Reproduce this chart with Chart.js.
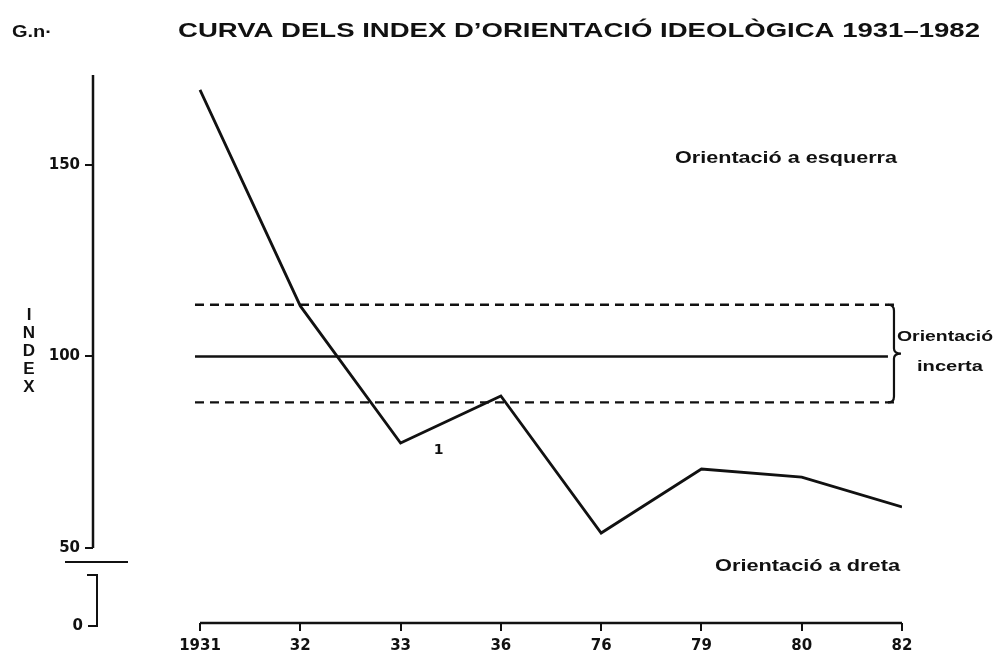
<!DOCTYPE html>
<html>
<head>
<meta charset="utf-8">
<script src="https://cdn.jsdelivr.net/npm/chart.js@4.4.1/dist/chart.umd.min.js"></script>
<style>
    html, body { margin: 0; padding: 0; background: #ffffff; }
    canvas { display: block; }
</style>
</head>
<body>
<canvas id="indexChart" width="1000" height="653"></canvas>
<script>
// values
var years       = ['1931', '32', '33', '36', '76', '79', '80', '82'];
var indexValues = [169.6, 113.2, 77.4, 89.7, 53.9, 70.6, 68.5, 60.7];
var yTicks      = [50, 100, 150];

// band of "orientació incerta"
var bandUpper  = 113.5;
var bandMiddle = 100;
var bandLower  = 88;
var bandFrom   = -0.05;
var bandTo     = 6.92;

var ink = '#111111';
Chart.defaults.font.family = 'DejaVu Sans';
Chart.defaults.color = ink;

function bandLine(value, dash, to) {
    return {
        data:        [{ x: bandFrom, y: value }, { x: to, y: value }],
        borderColor: ink,
        borderWidth: 2.4,
        borderDash:  dash,
        pointRadius: 0,
        tension:     0
    };
}

function strokeLine(ctx, x1, y1, x2, y2) {
    ctx.beginPath();
    ctx.moveTo(x1, y1);
    ctx.lineTo(x2, y2);
    ctx.stroke();
}

// draws text squeezed/stretched to the width it has in the scan
function fitText(ctx, text, left, baseline, width) {
    var w = ctx.measureText(text).width;
    ctx.save();
    ctx.translate(left, baseline);
    ctx.scale(width / w, 1);
    ctx.textAlign = 'left';
    ctx.textBaseline = 'alphabetic';
    ctx.fillText(text, 0, 0);
    ctx.restore();
}

var figureDecor = {
    id: 'figureDecor',
    afterDraw: function (chart) {
        var ctx  = chart.ctx;
        var area = chart.chartArea;
        var xs   = chart.scales.x;
        var ys   = chart.scales.y;
        var y50  = ys.getPixelForValue(yTicks[0]);

        ctx.save();
        ctx.strokeStyle = ink;
        ctx.fillStyle   = ink;
        ctx.lineWidth   = 2.5;

        // axes
        strokeLine(ctx, area.left, area.top, area.left, y50);
        strokeLine(ctx, xs.getPixelForValue(0), area.bottom,
                        xs.getPixelForValue(years.length - 1), area.bottom);

        // axis break and the short piece down to zero
        ctx.lineWidth = 2;
        strokeLine(ctx, area.left - 28, y50 + 14, area.left + 35, y50 + 14);
        ctx.beginPath();
        ctx.moveTo(area.left - 6, y50 + 27);
        ctx.lineTo(area.left + 4, y50 + 27);
        ctx.lineTo(area.left + 4, area.bottom + 3);
        ctx.lineTo(area.left - 5, area.bottom + 3);
        ctx.stroke();
        ctx.font = 'bold 15px "DejaVu Sans"';
        ctx.textAlign = 'right';
        ctx.textBaseline = 'middle';
        ctx.fillText('0', area.left - 10, area.bottom + 3);

        // brace on the band
        var xb = xs.getPixelForValue(bandTo);
        var yU = ys.getPixelForValue(bandUpper);
        var yL = ys.getPixelForValue(bandLower);
        var yM = (yU + yL) / 2;
        ctx.lineWidth = 2.2;
        ctx.beginPath();
        ctx.moveTo(xb - 6, yU);
        ctx.quadraticCurveTo(xb, yU, xb, yU + 6);
        ctx.lineTo(xb, yM - 5);
        ctx.quadraticCurveTo(xb, yM, xb + 7, yM);
        ctx.quadraticCurveTo(xb, yM, xb, yM + 5);
        ctx.lineTo(xb, yL - 6);
        ctx.quadraticCurveTo(xb, yL, xb - 6, yL);
        ctx.stroke();

        // texts
        ctx.font = 'bold 21px "Liberation Sans"';
        fitText(ctx, 'CURVA DELS INDEX D\u2019ORIENTACIÓ IDEOLÒGICA 1931\u20131982', 178, 37, 802);
        ctx.font = 'bold 17px "Liberation Sans"';
        fitText(ctx, 'G.n·', 12, 37, 40);

        ctx.font = 'bold 16px "Liberation Sans"';
        fitText(ctx, 'Orientació a esquerra', 675, 163, 222);
        fitText(ctx, 'Orientació a dreta', 715, 571, 185);
        ctx.font = 'bold 15px "Liberation Sans"';
        fitText(ctx, 'Orientació', 897, 341, 96);
        fitText(ctx, 'incerta', 917, 371, 66);

        ctx.font = 'bold 14px "DejaVu Sans"';
        ctx.textAlign = 'center';
        ctx.textBaseline = 'middle';
        ctx.fillText('1', xs.getPixelForValue(2.38), ys.getPixelForValue(75.6));

        // vertical axis title, letters stacked
        ctx.font = 'bold 17px "Liberation Sans"';
        var letters = ['I', 'N', 'D', 'E', 'X'];
        for (var i = 0; i < letters.length; i++) {
            ctx.fillText(letters[i], 29, 315 + i * 18);
        }
        ctx.restore();
    }
};

new Chart(document.getElementById('indexChart'), {
    type: 'line',
    data: {
        datasets: [
            {
                data:        years.map(function (y, i) { return { x: i, y: indexValues[i] }; }),
                borderColor: ink,
                borderWidth: 2.8,
                pointRadius: 0,
                tension:     0
            },
            bandLine(bandUpper, [9, 6], bandTo),
            bandLine(bandMiddle, [], bandTo - 0.06),
            bandLine(bandLower, [9, 6], bandTo)
        ]
    },
    options: {
        responsive: false,
        animation:  false,
        layout: { padding: { left: 43, right: 98, top: 75, bottom: 0 } },
        plugins: {
            legend:  { display: false },
            tooltip: { enabled: false }
        },
        scales: {
            x: {
                type: 'linear',
                min:  -1.067,
                max:  7,
                afterBuildTicks: function (s) {
                    s.ticks = years.map(function (y, i) { return { value: i }; });
                },
                afterFit: function (s) { s.height = 30; },
                ticks: {
                    font: { size: 15, weight: 'bold' },
                    padding: 6,
                    maxRotation: 0,
                    autoSkip: false,
                    callback: function (v) { return years[v]; }
                },
                grid:   { drawOnChartArea: false, tickLength: 8, color: ink, lineWidth: 2 },
                border: { display: false }
            },
            y: {
                min: 30.4,
                max: 173.5,
                afterBuildTicks: function (s) {
                    s.ticks = yTicks.map(function (v) { return { value: v }; });
                },
                afterFit: function (s) { s.width = 50; },
                ticks:  { font: { size: 15, weight: 'bold' }, padding: 5 },
                grid:   { drawOnChartArea: false, tickLength: 8, color: ink, lineWidth: 2 },
                border: { display: false }
            }
        }
    },
    plugins: [figureDecor]
});
</script>
</body>
</html>
